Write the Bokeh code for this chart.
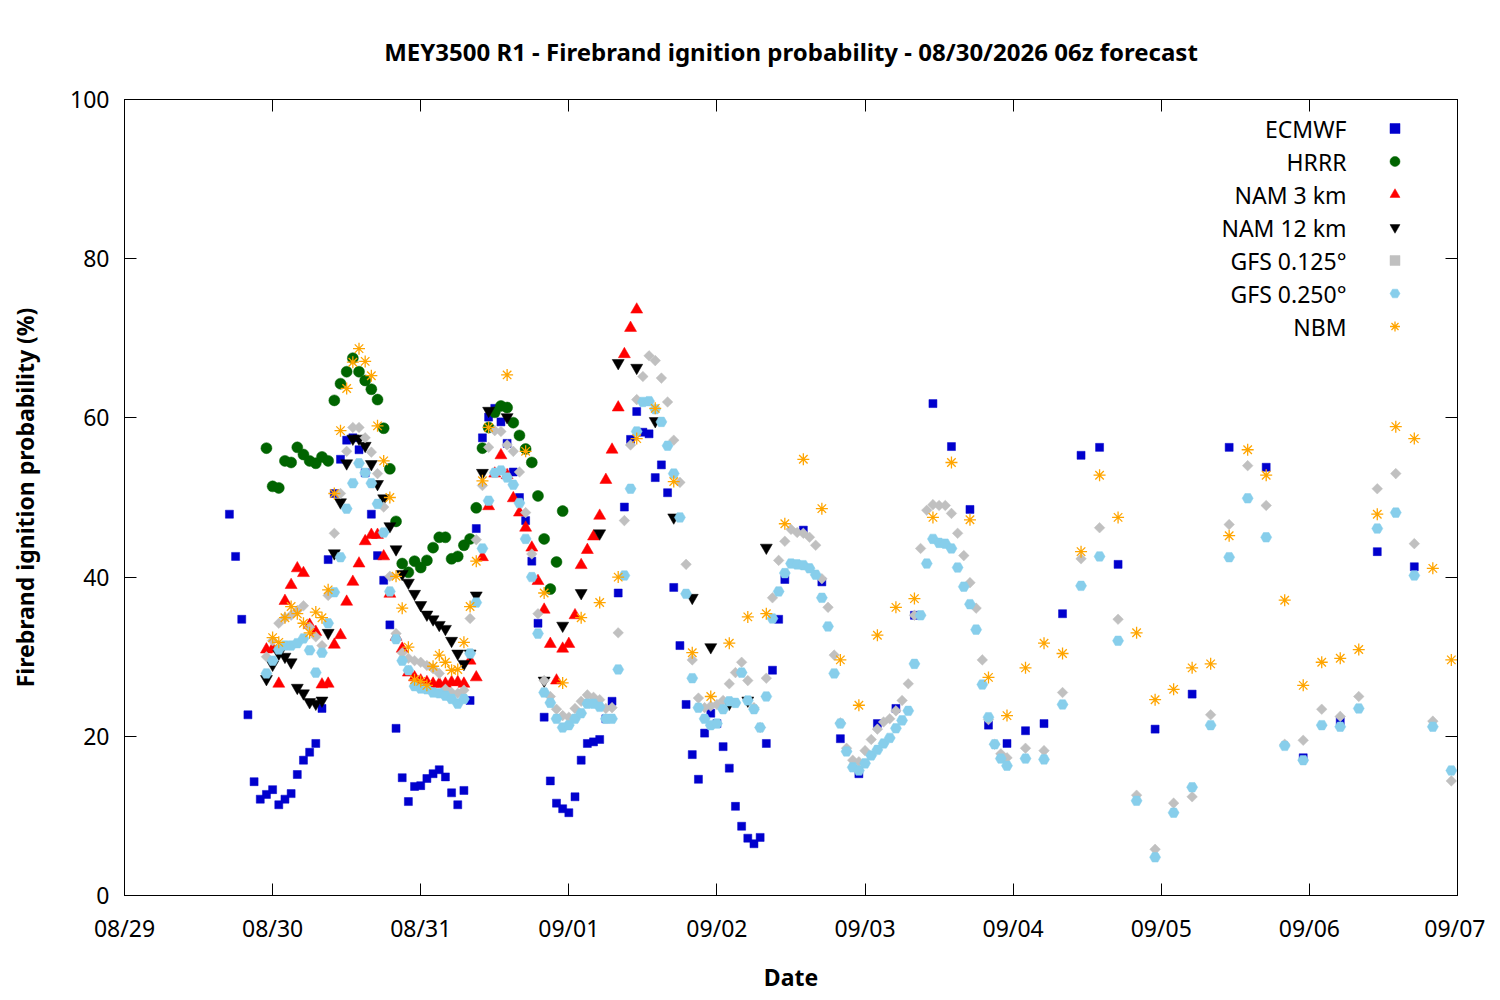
import pandas as pd
from bokeh.plotting import figure
from bokeh.models import (ColumnDataSource, DatetimeAxis, LinearAxis, FixedTicker,
                          DatetimeTickFormatter, Range1d, Legend, LegendItem, Label,
                          CustomJSTickFormatter)
from bokeh.embed import file_html
from bokeh.resources import INLINE

FONT = "Noto Sans"
TITLE = "MEY3500 R1 - Firebrand ignition probability - 08/30/2026 06z forecast"
X_LABEL = "Date"
Y_LABEL = "Firebrand ignition probability (%)"

base_time = "2026-08-29 00:00"
tick_days = ["2026-08-29", "2026-08-30", "2026-08-31", "2026-09-01", "2026-09-02",
             "2026-09-03", "2026-09-04", "2026-09-05", "2026-09-06", "2026-09-07"]
y_ticks = [0, 20, 40, 60, 80, 100]

# valid times: hours after 08/29 00:00
ecmwf_hours = list(range(17, 108)) + list(range(110, 162, 3)) + list(range(167, 210, 6))
ecmwf_vals = [
    47.9, 42.6, 34.7, 22.7, 14.3, 12.1, 12.7, 13.3, 11.4, 12.1,
    12.8, 15.2, 17.0, 18.0, 19.1, 23.5, 42.2, 50.5, 54.8, 57.2,
    57.5, 56.0, 53.1, 47.9, 42.7, 39.6, 34.0, 21.0, 14.8, 11.8,
    13.7, 13.8, 14.7, 15.3, 15.8, 14.9, 12.9, 11.4, 13.2, 24.5,
    46.1, 57.5, 60.1, 61.2, 59.5, 56.8, 53.2, 50.0, 47.1, 42.0,
    34.2, 22.4, 14.4, 11.6, 10.9, 10.4, 12.4, 17.0, 19.1, 19.3,
    19.6, 22.2, 24.4, 38.0, 48.8, 57.3, 60.8, 58.2, 58.0, 52.5,
    54.1, 50.6, 38.7, 31.4, 24.0, 17.7, 14.6, 20.4, 22.9, 21.6,
    18.7, 16.0, 11.2, 8.7, 7.2, 6.5, 7.3, 19.1, 28.3, 34.7, 39.7,
    45.9, 39.4, 19.7, 15.3, 21.6, 23.5, 35.2, 61.8, 56.4, 48.5,
    21.4, 19.1, 20.7, 21.6, 35.4, 55.3, 56.3, 41.6,
    20.9, 25.3, 56.3, 53.8, 17.3, 21.9, 43.2, 41.3,
]

hrrr_hours = list(range(23, 72))
hrrr_vals = [
    56.2, 51.4, 51.2, 54.6, 54.4, 56.3, 55.4, 54.6, 54.3, 55.1,
    54.6, 62.2, 64.3, 65.8, 67.5, 65.8, 64.7, 63.6, 62.3, 58.7,
    53.6, 47.0, 41.7, 40.6, 42.0, 41.2, 42.1, 43.7, 45.0, 45.0,
    42.3, 42.6, 44.0, 44.8, 48.7, 56.2, 58.8, 60.7, 61.5, 61.3,
    59.4, 57.8, 56.1, 54.4, 50.2, 44.8, 38.5, 41.9, 48.3,
]

nam3_hours = list(range(23, 84))
nam3_vals = [
    30.9, 31.0, 26.6, 37.0, 39.0, 41.1, 40.5, 34.0, 33.1, 26.5,
    26.6, 31.5, 32.7, 36.9, 39.4, 41.7, 44.5, 45.3, 45.3, 42.6,
    37.9, 32.5, 31.0, 28.0, 27.4, 27.0, 26.8, 26.6, 26.6, 26.6,
    26.8, 26.8, 26.6, 29.5, 27.4, 42.5, 48.9, 53.0, 55.3, 52.8,
    49.9, 48.1, 46.2, 43.7, 39.5, 35.9, 31.6, 27.0, 31.0, 31.6,
    35.2, 41.5, 43.4, 45.1, 47.7, 52.2, 56.0, 61.3, 68.0, 71.3, 73.6,
]

nam12_hours = list(range(23, 60)) + [62] + list(range(68, 105, 3))
nam12_vals = [
    27.2, 29.0, 30.4, 30.0, 29.3, 26.1, 25.4, 24.3, 24.1, 24.5,
    33.0, 43.0, 49.4, 54.3, 57.4, 57.4, 56.5, 54.2, 51.7, 49.9,
    46.4, 43.5, 40.4, 39.3, 37.9, 36.5, 35.3, 34.7, 34.0, 33.5,
    32.0, 30.4, 29.1, 30.4, 37.7, 53.1, 60.9,
    60.1,
    27.0, 33.9, 38.0, 45.5, 66.9, 66.3, 59.6, 47.5, 37.4, 31.2, 24.1, 24.5, 43.7,
]

gfs125_hours = list(range(23, 144)) + list(range(146, 216, 3))
gfs125_vals = [
    30.0, 32.0, 34.2, 34.9, 35.2, 35.8, 36.4, 33.7, 32.5, 31.4,
    37.7, 45.5, 50.5, 55.8, 58.8, 58.8, 57.5, 55.7, 53.0, 48.8,
    40.1, 32.9, 30.5, 29.8, 29.5, 29.3, 28.9, 28.5, 27.9, 25.9,
    25.5, 25.4, 25.8, 34.8, 44.7, 51.5, 56.3, 58.4, 58.3, 56.6,
    55.8, 53.2, 48.1, 42.9, 35.4, 27.0, 25.0, 23.4, 22.6, 22.4,
    23.5, 24.4, 25.2, 24.9, 24.6, 23.5, 23.6, 33.0, 47.1, 56.6,
    62.3, 65.2, 67.8, 67.2, 65.0, 62.0, 57.2, 51.9, 41.6, 29.6,
    24.8, 23.6, 23.8, 24.0, 24.5, 26.6, 28.0, 29.3, 27.0, 23.6,
    21.1, 27.3, 37.4, 42.1, 44.5, 46.0, 45.6, 45.5, 45.0, 44.0,
    39.8, 36.2, 30.2, 21.7, 18.5, 17.0, 16.8, 18.2, 19.6, 20.9,
    21.8, 22.2, 23.2, 24.5, 26.6, 35.2, 43.6, 48.4, 49.1, 49.0,
    49.0, 48.0, 45.5, 42.7, 39.3, 36.1, 29.6, 22.1, 19.0, 17.8, 17.3,
    18.5, 18.2, 25.5, 42.3, 46.2, 34.7, 12.6, 5.8, 11.6, 12.4,
    22.7, 46.6, 54.0, 49.0, 19.0, 19.5, 23.4, 22.5, 25.0, 51.1,
    53.0, 44.2, 21.9, 14.4,
]

gfs250_hours = list(range(23, 144)) + list(range(146, 216, 3))
gfs250_vals = [
    27.9, 29.5, 30.9, 31.4, 31.4, 31.7, 32.3, 30.8, 28.0, 30.5,
    34.2, 38.1, 42.5, 48.6, 51.8, 54.3, 53.1, 51.8, 49.2, 45.6,
    38.2, 32.2, 29.5, 28.3, 26.3, 26.0, 25.9, 25.5, 25.4, 25.1,
    24.7, 24.1, 24.7, 30.4, 36.8, 43.6, 49.6, 53.1, 53.4, 52.5,
    51.6, 49.3, 44.8, 40.0, 32.9, 25.5, 24.2, 22.2, 21.1, 21.4,
    22.2, 22.9, 24.1, 24.1, 23.7, 22.2, 22.2, 28.4, 40.2, 51.1,
    58.3, 62.0, 62.1, 61.1, 59.5, 56.5, 53.0, 47.5, 37.9, 27.3,
    23.6, 22.2, 21.4, 21.6, 23.4, 24.4, 24.2, 28.0, 24.5, 23.4,
    21.1, 25.0, 34.8, 38.2, 40.5, 41.7, 41.6, 41.5, 41.1, 40.3,
    37.4, 33.8, 27.9, 21.6, 18.1, 16.1, 15.7, 16.6, 17.6, 18.3,
    19.1, 19.8, 21.0, 22.0, 23.2, 29.1, 35.2, 41.7, 44.8, 44.3,
    44.2, 43.6, 41.2, 38.8, 36.6, 33.4, 26.5, 22.4, 19.0, 17.2, 16.3,
    17.2, 17.1, 24.0, 38.9, 42.6, 32.0, 11.9, 4.8, 10.4, 13.6,
    21.4, 42.5, 49.9, 45.0, 18.8, 17.0, 21.4, 21.2, 23.5, 46.1,
    48.1, 40.2, 21.2, 15.7,
]

nbm_hours = list(range(24, 60)) + list(range(62, 216, 3))
nbm_vals = [
    32.4, 31.8, 34.9, 36.3, 35.4, 34.2, 33.0, 35.6, 34.9, 38.4,
    50.5, 58.4, 63.7, 67.0, 68.7, 67.1, 65.3, 59.0, 54.6, 50.0,
    40.1, 36.1, 31.2, 27.1, 26.9, 26.4, 28.8, 30.2, 29.3, 28.3,
    28.4, 31.8, 36.3, 42.0, 52.1, 58.8,
    65.4, 55.8, 38.0, 26.7, 34.9, 36.8, 40.0, 57.4, 61.2, 52.0,
    30.5, 25.0, 31.7, 35.0, 35.4, 46.7, 54.8, 48.6, 29.6, 23.9,
    32.7, 36.2, 37.3, 47.5, 54.4, 47.2, 27.4, 22.6, 28.6, 31.7,
    30.4, 43.2, 52.8, 47.5, 33.0, 24.6, 25.9, 28.6, 29.1, 45.2,
    56.0, 52.8, 37.1, 26.4, 29.3, 29.8, 30.9, 47.9, 58.9, 57.4,
    41.1, 29.6,
]

series_names = ["ECMWF", "HRRR", "NAM 3 km", "NAM 12 km", "GFS 0.125°", "GFS 0.250°", "NBM"]
series_hours = [ecmwf_hours, hrrr_hours, nam3_hours, nam12_hours, gfs125_hours, gfs250_hours, nbm_hours]
series_vals = [ecmwf_vals, hrrr_vals, nam3_vals, nam12_vals, gfs125_vals, gfs250_vals, nbm_vals]
series_colors = ["#0000cd", "#006400", "#ff0000", "#000000", "#c0c0c0", "#87ceeb", "#ffa500"]
series_markers = ["square", "circle", "triangle", "inverted_triangle", "square", "hex", "asterisk"]
series_sizes = [8, 11, 12, 12, 7.5, 11, 12]
series_angles = [0, 0, 0, 0, 0.785398, 0, 0]

t0 = pd.Timestamp(base_time)
x_start = pd.Timestamp(tick_days[0])
x_end = pd.Timestamp(tick_days[-1])

FRAME_W, FRAME_H = 1333, 796

p = figure(frame_width=FRAME_W, frame_height=FRAME_H, x_axis_type="datetime",
           x_range=Range1d(x_start, x_end), y_range=Range1d(0, 100),
           output_backend="svg", toolbar_location=None,
           min_border_left=124, min_border_right=28, min_border_top=99, min_border_bottom=95,
           title=TITLE)

p.title.text_font = FONT
p.title.text_font_size = "24px"
p.title.text_font_style = "bold"
p.title.text_color = "black"
p.title.align = "center"
p.title.standoff = 64
p.xgrid.visible = False
p.ygrid.visible = False
p.outline_line_color = "black"
p.outline_line_alpha = 1.0
p.background_fill_color = "white"
p.border_fill_color = "white"

bottom_axis = p.below[0]
left_axis = p.left[0]

renderers = []
for name, hrs, vals, col, mk, sz, ang in zip(series_names, series_hours, series_vals,
                                               series_colors, series_markers, series_sizes,
                                               series_angles):
    times = t0 + pd.to_timedelta(hrs, unit="h")
    src = ColumnDataSource(dict(t=times, v=vals))
    if mk == "asterisk":
        r = p.scatter("t", "v", source=src, marker=mk, size=sz, line_color=col, line_width=1.3)
    else:
        r = p.scatter("t", "v", source=src, marker=mk, size=sz, fill_color=col,
                      line_color=col, line_width=0.5, angle=ang)
    renderers.append(r)

day_ticks = [pd.Timestamp(d).value / 1e6 for d in tick_days]
fmt = "%m/%d"
dt_fmt = DatetimeTickFormatter(microseconds=fmt, milliseconds=fmt, seconds=fmt, minsec=fmt,
                               minutes=fmt, hourmin=fmt, hours=fmt, days=fmt, months=fmt,
                               years=fmt)
blank = CustomJSTickFormatter(code="return ''")

bottom_axis.ticker = FixedTicker(ticks=day_ticks)
bottom_axis.formatter = dt_fmt
left_axis.ticker = FixedTicker(ticks=y_ticks)
bottom_axis.axis_label = X_LABEL
left_axis.axis_label = Y_LABEL

top_axis = DatetimeAxis(ticker=FixedTicker(ticks=day_ticks), formatter=blank)
right_axis = LinearAxis(ticker=FixedTicker(ticks=y_ticks), formatter=blank)
p.add_layout(top_axis, "above")
p.add_layout(right_axis, "right")

for ax in [bottom_axis, left_axis, top_axis, right_axis]:
    ax.axis_line_color = "black"
    ax.axis_line_width = 1
    ax.major_tick_in = 12
    ax.major_tick_out = 0
    ax.major_tick_line_color = "black"
    ax.minor_tick_in = 0
    ax.minor_tick_out = 0
    ax.major_label_text_font = FONT
    ax.major_label_text_font_size = "23px"
    ax.major_label_text_color = "black"
    ax.axis_label_text_font = FONT
    ax.axis_label_text_font_size = "23px"
    ax.axis_label_text_font_style = "bold"
    ax.axis_label_text_color = "black"

top_axis.major_label_text_font_size = "1px"
top_axis.major_label_standoff = 0
right_axis.major_label_text_font_size = "1px"
right_axis.major_label_standoff = 0

bottom_axis.major_label_standoff = 16
bottom_axis.axis_label_standoff = 14
left_axis.major_label_standoff = 15
left_axis.axis_label_standoff = 26

# legend: symbols to the right of right-aligned names (as in the reference)
row_pitch = 33
first_row = 29
glyph_w = 25
legend = Legend(items=[LegendItem(label=" ", renderers=[r]) for r in renderers],
                location=(1270 - glyph_w // 2, FRAME_H - (first_row - 15) - (7 * 30 + 6 * 3)),
                orientation="vertical", glyph_width=glyph_w, glyph_height=30,
                label_height=30, label_width=0, label_standoff=0, spacing=3,
                padding=0, border_line_alpha=0, background_fill_alpha=0,
                label_text_font_size="1px")
p.add_layout(legend)

for i, name in enumerate(series_names):
    p.add_layout(Label(x=1222, y=FRAME_H - first_row - row_pitch * i,
                       x_units="screen", y_units="screen", text=name,
                       text_align="right", text_baseline="middle",
                       text_font=FONT, text_font_size="23px", text_color="black"))

open("out.html", "w").write(file_html(p, INLINE))
